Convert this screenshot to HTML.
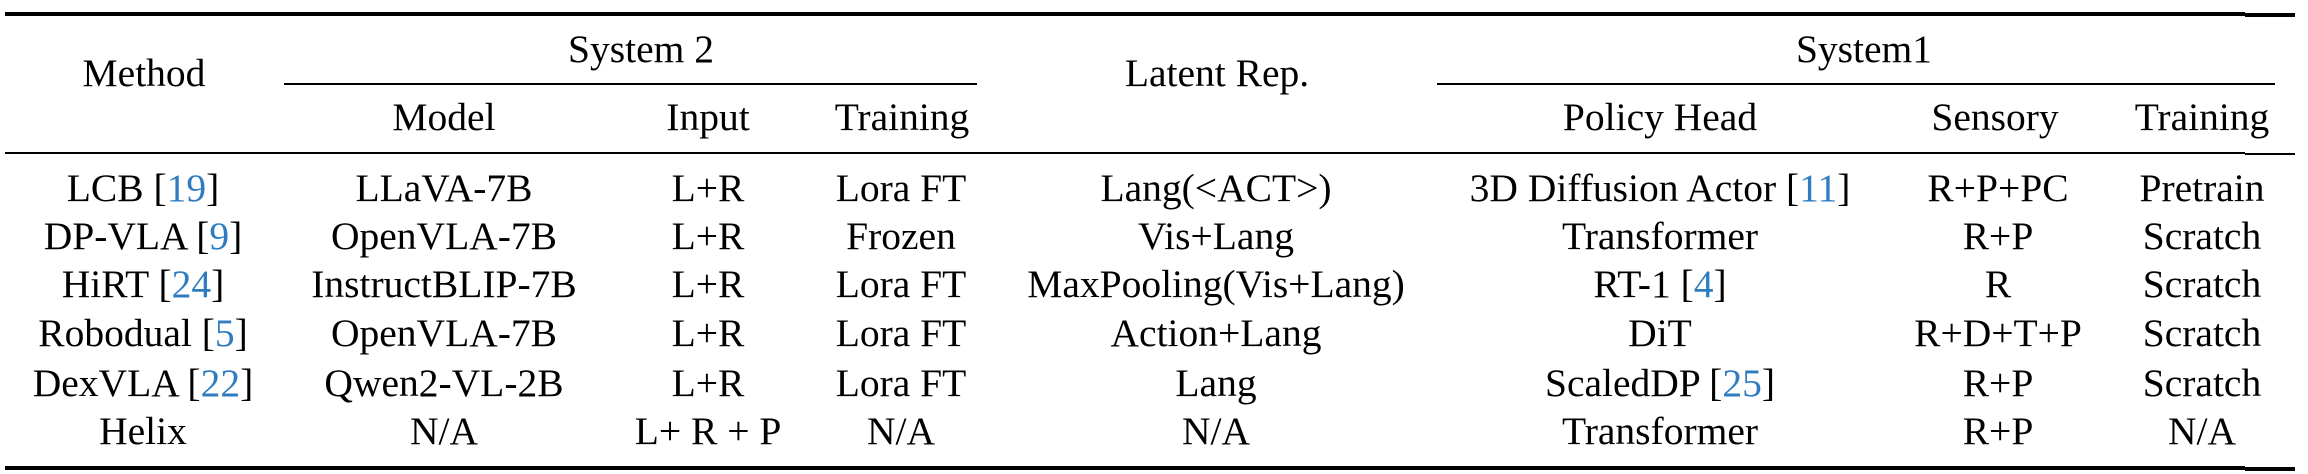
<!DOCTYPE html>
<html><head><meta charset="utf-8">
<style>
html,body{margin:0;padding:0;background:#fff;}
body{width:2308px;height:474px;position:relative;overflow:hidden;font-family:"Liberation Serif","DejaVu Serif",serif;color:#000;}
.t{position:absolute;font-family:"Liberation Serif","DejaVu Serif",serif;font-size:39.5px;line-height:39.5px;white-space:nowrap;transform:translateX(-50%);}
.b{color:#2f7cc0;}
.r{position:absolute;background:#000;}
</style></head><body>
<div class="r" style="left:5px;top:12px;width:2240px;height:4px"></div>
<div class="r" style="left:2245px;top:13px;width:50px;height:4px"></div>
<div class="r" style="left:284px;top:83px;width:693px;height:2px"></div>
<div class="r" style="left:1437px;top:83px;width:838px;height:2px"></div>
<div class="r" style="left:5px;top:152px;width:2240px;height:2px"></div>
<div class="r" style="left:2245px;top:153px;width:50px;height:2px"></div>
<div class="r" style="left:5px;top:466px;width:2240px;height:4px"></div>
<div class="r" style="left:2245px;top:467px;width:50px;height:4px"></div>

<div class="t" style="left:144px;top:54px">Method</div>
<div class="t" style="left:641px;top:30px">System 2</div>
<div class="t" style="left:1217px;top:54px">Latent Rep.</div>
<div class="t" style="left:1864px;top:30px">System1</div>
<div class="t" style="left:444px;top:98px">Model</div>
<div class="t" style="left:708px;top:98px">Input</div>
<div class="t" style="left:902px;top:98px">Training</div>
<div class="t" style="left:1660px;top:98px">Policy Head</div>
<div class="t" style="left:1995px;top:98px">Sensory</div>
<div class="t" style="left:2202px;top:98px">Training</div>

<div class="t" style="left:143px;top:169px">LCB [<span class="b">19</span>]</div>
<div class="t" style="left:444px;top:169px">LLaVA-7B</div>
<div class="t" style="left:708px;top:169px">L+R</div>
<div class="t" style="left:901px;top:169px">Lora FT</div>
<div class="t" style="left:1216px;top:169px">Lang(&lt;ACT&gt;)</div>
<div class="t" style="left:1660px;top:169px">3D Diffusion Actor [<span class="b">11</span>]</div>
<div class="t" style="left:1998px;top:169px">R+P+PC</div>
<div class="t" style="left:2202px;top:169px">Pretrain</div>

<div class="t" style="left:143px;top:217px">DP-VLA [<span class="b">9</span>]</div>
<div class="t" style="left:444px;top:217px">OpenVLA-7B</div>
<div class="t" style="left:708px;top:217px">L+R</div>
<div class="t" style="left:901px;top:217px">Frozen</div>
<div class="t" style="left:1216px;top:217px">Vis+Lang</div>
<div class="t" style="left:1660px;top:217px">Transformer</div>
<div class="t" style="left:1998px;top:217px">R+P</div>
<div class="t" style="left:2202px;top:217px">Scratch</div>

<div class="t" style="left:143px;top:265px">HiRT [<span class="b">24</span>]</div>
<div class="t" style="left:444px;top:265px">InstructBLIP-7B</div>
<div class="t" style="left:708px;top:265px">L+R</div>
<div class="t" style="left:901px;top:265px">Lora FT</div>
<div class="t" style="left:1216px;top:265px">MaxPooling(Vis+Lang)</div>
<div class="t" style="left:1660px;top:265px">RT-1 [<span class="b">4</span>]</div>
<div class="t" style="left:1998px;top:265px">R</div>
<div class="t" style="left:2202px;top:265px">Scratch</div>

<div class="t" style="left:143px;top:314px">Robodual [<span class="b">5</span>]</div>
<div class="t" style="left:444px;top:314px">OpenVLA-7B</div>
<div class="t" style="left:708px;top:314px">L+R</div>
<div class="t" style="left:901px;top:314px">Lora FT</div>
<div class="t" style="left:1216px;top:314px">Action+Lang</div>
<div class="t" style="left:1660px;top:314px">DiT</div>
<div class="t" style="left:1998px;top:314px">R+D+T+P</div>
<div class="t" style="left:2202px;top:314px">Scratch</div>

<div class="t" style="left:143px;top:364px">DexVLA [<span class="b">22</span>]</div>
<div class="t" style="left:444px;top:364px">Qwen2-VL-2B</div>
<div class="t" style="left:708px;top:364px">L+R</div>
<div class="t" style="left:901px;top:364px">Lora FT</div>
<div class="t" style="left:1216px;top:364px">Lang</div>
<div class="t" style="left:1660px;top:364px">ScaledDP [<span class="b">25</span>]</div>
<div class="t" style="left:1998px;top:364px">R+P</div>
<div class="t" style="left:2202px;top:364px">Scratch</div>

<div class="t" style="left:143px;top:412px">Helix</div>
<div class="t" style="left:444px;top:412px">N/A</div>
<div class="t" style="left:708px;top:412px">L+ R + P</div>
<div class="t" style="left:901px;top:412px">N/A</div>
<div class="t" style="left:1216px;top:412px">N/A</div>
<div class="t" style="left:1660px;top:412px">Transformer</div>
<div class="t" style="left:1998px;top:412px">R+P</div>
<div class="t" style="left:2202px;top:412px">N/A</div>
</body></html>
